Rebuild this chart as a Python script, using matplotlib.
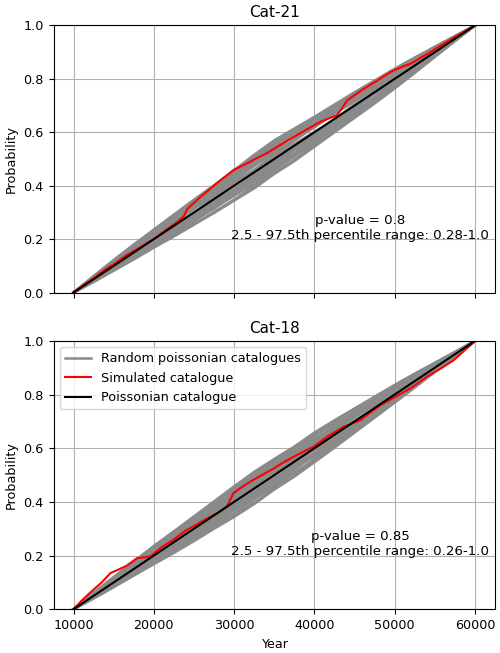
import numpy as np
import matplotlib.pyplot as plt

plt.rcParams['font.size'] = 9.2

# shared grid for the random poissonian catalogues (years)
grid_years = [10000, 12500, 15000, 17500, 20000, 22500, 25000, 27500, 30000, 32500, 35000,
              37500, 40000, 42500, 45000, 47500, 50000, 52500, 55000, 57500, 60000]

# departure of each random catalogue from the poissonian line (thousandths of probability)
random_dev_21 = [
    [0, 6, 10, 14, 18, 22, 25, 30, 34, 38, 36, 40, 42, 38, 35, 30, 26, 20, 14, 8, 0],
    [0, -5, -8, -12, -15, -20, -24, -22, -28, -30, -26, -32, -30, -27, -24, -20, -18, -14, -10, -5, 0],
    [0, 4, 2, 8, 12, 10, 15, 20, 18, 24, 28, 22, 18, 20, 15, 12, 14, 10, 6, 3, 0],
    [0, -3, -6, -4, -10, -14, -12, -18, -16, -20, -24, -20, -22, -18, -22, -25, -20, -15, -12, -6, 0],
    [0, 8, 14, 18, 22, 28, 32, 36, 44, 50, 55, 52, 48, 45, 40, 35, 30, 24, 16, 8, 0],
    [0, -8, -12, -18, -22, -26, -30, -34, -38, -42, -44, -40, -36, -38, -34, -30, -26, -20, -14, -6, 0],
    [0, 2, 6, 4, 0, -4, -2, 4, 8, 6, 2, -2, -6, -4, 0, 4, 6, 4, 2, 1, 0],
    [0, 5, 12, 16, 14, 18, 22, 16, 12, 8, 10, 6, 2, -4, -8, -6, -10, -8, -6, -3, 0],
    [0, -4, -10, -14, -10, -6, -2, 2, 6, 10, 14, 18, 22, 26, 24, 20, 16, 14, 10, 5, 0],
    [0, 6, 4, 10, 14, 20, 26, 32, 30, 36, 42, 46, 50, 44, 40, 36, 28, 22, 14, 6, 0],
    [0, -6, -10, -8, -14, -18, -20, -16, -12, -8, -4, -8, -12, -16, -20, -24, -28, -22, -16, -8, 0],
    [0, 3, 8, 14, 20, 18, 14, 10, 6, 2, -2, -6, -10, -14, -12, -8, -4, -2, 0, 2, 0],
    [0, -2, -4, 2, 6, 10, 14, 18, 24, 30, 34, 38, 34, 30, 28, 26, 24, 18, 12, 6, 0],
    [0, -5, -10, -16, -20, -24, -30, -36, -32, -28, -34, -38, -42, -36, -30, -24, -18, -14, -10, -5, 0],
    [0, 10, 16, 22, 26, 30, 34, 40, 48, 56, 62, 60, 54, 50, 46, 42, 36, 28, 20, 10, 0],
    [0, -2, 2, -4, -8, -4, 0, -6, -12, -16, -12, -8, -4, 0, 4, 0, -4, -6, -4, -2, 0],
    [0, 10, 20, 28, 36, 42, 48, 52, 56, 60, 58, 56, 52, 48, 46, 40, 34, 26, 18, 9, 0],
    [0, -9, -16, -24, -30, -38, -44, -48, -52, -50, -54, -52, -48, -44, -40, -36, -30, -24, -16, -8, 0],
    [0, 8, 16, 24, 32, 40, 44, 50, 58, 66, 70, 64, 58, 54, 50, 44, 38, 30, 20, 10, 0],
    [0, -10, -18, -26, -32, -40, -46, -52, -56, -60, -56, -58, -54, -50, -46, -42, -36, -28, -18, -8, 0],
    [0, 12, 22, 30, 34, 34, 38, 42, 40, 44, 48, 44, 40, 36, 32, 30, 26, 22, 16, 8, 0],
    [0, -10, -16, -22, -28, -32, -36, -30, -26, -32, -36, -32, -28, -30, -34, -30, -24, -20, -14, -7, 0],
    [0, 6, 16, 24, 28, 24, 20, 26, 30, 26, 20, 24, 30, 26, 22, 20, 18, 14, 10, 4, 0],
    [0, -8, -16, -20, -18, -12, -8, -12, -20, -24, -20, -16, -18, -24, -28, -22, -16, -12, -8, -4, 0],
    [0, 4, 12, 20, 30, 36, 40, 44, 38, 32, 36, 40, 44, 40, 34, 28, 22, 16, 10, 5, 0],
    [0, -2, -8, -16, -24, -30, -28, -24, -20, -24, -30, -36, -34, -30, -26, -22, -16, -12, -8, -4, 0],
]

random_dev_18 = [
    [0, 8, 14, 20, 24, 30, 36, 34, 40, 44, 48, 52, 46, 42, 38, 32, 28, 22, 14, 6, 0],
    [0, -6, -12, -16, -20, -26, -30, -34, -30, -36, -40, -44, -40, -36, -32, -28, -24, -18, -12, -6, 0],
    [0, 4, 10, 6, 12, 16, 20, 24, 20, 16, 12, 16, 20, 24, 18, 14, 10, 8, 4, 2, 0],
    [0, -4, -2, -8, -12, -8, -14, -18, -22, -18, -14, -10, -6, -10, -14, -18, -16, -12, -8, -4, 0],
    [0, 10, 18, 24, 30, 36, 42, 48, 54, 58, 54, 50, 56, 52, 46, 40, 34, 26, 18, 8, 0],
    [0, -8, -14, -20, -26, -32, -38, -42, -48, -52, -48, -46, -50, -44, -38, -34, -28, -22, -14, -6, 0],
    [0, 2, -2, 4, 8, 4, 0, -4, 2, 8, 12, 8, 4, 0, -4, -2, 2, 4, 2, 0, 0],
    [0, 6, 12, 18, 14, 10, 14, 20, 26, 22, 18, 14, 10, 6, 2, -2, -6, -8, -6, -2, 0],
    [0, -4, -8, -12, -6, -2, 4, 10, 14, 18, 24, 28, 32, 28, 30, 26, 20, 16, 10, 4, 0],
    [0, -2, -6, -10, -14, -18, -14, -10, -16, -22, -26, -30, -26, -22, -18, -12, -8, -4, -2, -1, 0],
    [0, 6, 10, 14, 20, 26, 30, 34, 38, 32, 28, 24, 28, 34, 38, 34, 28, 20, 12, 6, 0],
    [0, -6, -10, -6, -2, 2, 6, 2, -4, -8, -12, -16, -20, -24, -28, -24, -20, -14, -10, -4, 0],
    [0, 3, 6, 10, 16, 22, 18, 14, 10, 14, 20, 26, 22, 18, 14, 10, 6, 4, 2, 1, 0],
    [0, -3, -8, -14, -18, -22, -26, -22, -18, -12, -6, -2, -6, -12, -16, -20, -22, -18, -12, -6, 0],
    [0, 8, 4, 0, -4, -8, -12, -16, -12, -6, 0, 6, 12, 18, 22, 18, 14, 10, 6, 2, 0],
    [0, 2, 8, 14, 10, 6, 2, -2, 4, 10, 16, 20, 14, 8, 2, -4, -10, -12, -10, -5, 0],
    [0, 10, 18, 26, 34, 40, 46, 52, 58, 62, 60, 56, 58, 54, 48, 42, 36, 28, 18, 9, 0],
    [0, -9, -16, -24, -32, -40, -46, -50, -56, -58, -54, -56, -52, -48, -42, -36, -30, -24, -16, -8, 0],
    [0, 12, 20, 28, 36, 40, 44, 40, 46, 50, 44, 40, 44, 46, 42, 36, 30, 24, 16, 8, 0],
    [0, -10, -18, -24, -30, -36, -32, -38, -42, -40, -36, -40, -44, -40, -34, -30, -26, -20, -12, -6, 0],
    [0, 6, 14, 22, 28, 26, 30, 36, 32, 28, 34, 38, 34, 30, 26, 24, 20, 14, 8, 4, 0],
    [0, -6, -14, -18, -22, -26, -22, -18, -24, -28, -32, -28, -24, -28, -32, -26, -20, -14, -10, -5, 0],
    [0, 9, 14, 12, 18, 24, 28, 24, 30, 36, 40, 36, 32, 28, 32, 28, 22, 16, 10, 5, 0],
    [0, -8, -10, -16, -20, -16, -20, -26, -30, -26, -22, -26, -30, -34, -30, -26, -18, -14, -8, -4, 0],
    [0, 4, 8, 16, 22, 30, 34, 30, 26, 20, 14, 10, 14, 18, 22, 20, 16, 12, 8, 3, 0],
    [0, -4, -10, -8, -12, -16, -10, -4, -8, -14, -18, -22, -18, -14, -10, -8, -6, -8, -6, -2, 0],
]

# simulated catalogues (cumulative probability)
sim21_years = [10000, 11200, 12500, 13800, 15000, 16500, 18000, 20000, 21500, 23000, 23700, 24200,
               25800, 27000, 28500, 30000, 31500, 33000, 34100, 35500, 37400, 39000, 40800, 42800,
               43400, 44100, 46000, 47800, 49500, 51000, 52000, 54000, 56000, 58200, 60000]
sim21_prob = [0, 0.028, 0.053, 0.084, 0.106, 0.138, 0.164, 0.2, 0.234, 0.266, 0.284, 0.314,
              0.358, 0.388, 0.425, 0.46, 0.482, 0.506, 0.522, 0.548, 0.582, 0.61, 0.64, 0.664,
              0.688, 0.72, 0.76, 0.793, 0.826, 0.846, 0.857, 0.892, 0.93, 0.969, 1.0]

sim18_years = [10000, 11000, 12000, 13500, 14600, 15600, 16600, 17900, 19600, 21000, 22500, 24000,
               25000, 26500, 27900, 29100, 29900, 31000, 32400, 33600, 34900, 36200, 37400, 38700,
               39900, 41600, 43700, 45700, 47000, 48200, 50000, 52000, 54100, 55800, 57400, 59500, 60000]
sim18_prob = [0, 0.032, 0.06, 0.10, 0.135, 0.148, 0.162, 0.19, 0.197, 0.232, 0.26, 0.294,
              0.31, 0.336, 0.358, 0.382, 0.432, 0.456, 0.482, 0.502, 0.524, 0.548, 0.568, 0.588,
              0.606, 0.643, 0.681, 0.704, 0.734, 0.76, 0.79, 0.824, 0.868, 0.898, 0.929, 0.986, 1.0]

# poissonian catalogue
poisson_years = [10000, 60000]
poisson_prob = [0.0, 1.0]

panels = [
    ("Cat-21", random_dev_21, sim21_years, sim21_prob, "0.8", "0.28-1.0"),
    ("Cat-18", random_dev_18, sim18_years, sim18_prob, "0.85", "0.26-1.0"),
]

fig = plt.figure(figsize=(5, 6.53), dpi=100)
ax_top = fig.add_axes([0.107, 0.552, 0.883, 0.409])
ax_bot = fig.add_axes([0.107, 0.067, 0.883, 0.411], sharex=ax_top)

grid = np.array(grid_years, dtype=float)
base = np.interp(grid, poisson_years, poisson_prob)

for ax, (title, devs, sy, sp, pval, prange) in zip([ax_top, ax_bot], panels):
    ax.grid(True, color='#b0b0b0', lw=0.8)
    ax.set_axisbelow(True)
    for i, dev in enumerate(devs):
        ax.plot(grid, base + np.array(dev) / 1000.0, color='#8a8a8a', lw=1.8,
                label='Random poissonian catalogues' if i == 0 else None)
    ax.plot(sy, sp, color='red', lw=1.5, label='Simulated catalogue')
    ax.plot(poisson_years, poisson_prob, color='black', lw=1.5, label='Poissonian catalogue')
    ax.set_ylim(0, 1)
    ax.set_ylabel('Probability')
    ax.set_title(title, fontsize=11)
    ax.text(0.695, 0.19, f"p-value = {pval}\n2.5 - 97.5th percentile range: {prange}",
            ha='center', va='bottom', fontsize=9.6, transform=ax.transAxes)

ax_top.tick_params(labelbottom=False)
ax_bot.set_xlabel('Year')
ax_bot.set_xticks([10000, 20000, 30000, 40000, 50000, 60000])
ax_bot.legend(loc='upper left')

fig.savefig('out.png', dpi=100)
